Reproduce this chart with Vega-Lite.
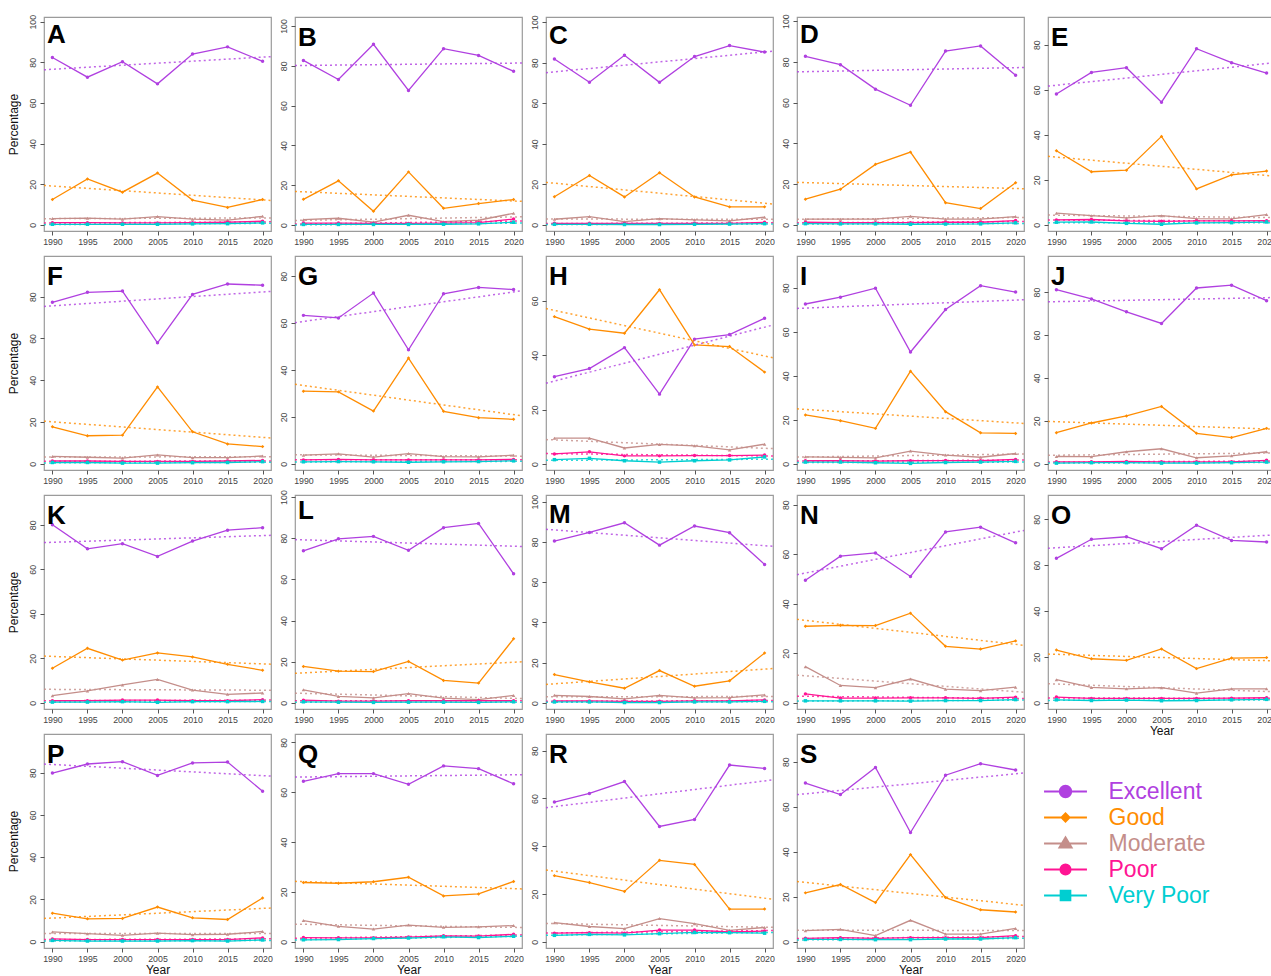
{
"$schema": "https://vega.github.io/schema/vega-lite/v6.json",
"padding": {"left": 6, "top": 13, "right": 0, "bottom": 0},
"bounds": "flush",
"spacing": {"row": 25, "column": 24},
"columns": 5,
"datasets": {"d": [
{"panel":"A","level":"Excellent","year":1990,"pct":82.4},{"panel":"A","level":"Excellent","year":1995,"pct":72.7},{"panel":"A","level":"Excellent","year":2000,"pct":80.3},{"panel":"A","level":"Excellent","year":2005,"pct":69.4},{"panel":"A","level":"Excellent","year":2010,"pct":84.1},{"panel":"A","level":"Excellent","year":2015,"pct":87.6},{"panel":"A","level":"Excellent","year":2020,"pct":80.5},
{"panel":"A","level":"Good","year":1990,"pct":12.5},{"panel":"A","level":"Good","year":1995,"pct":22.6},{"panel":"A","level":"Good","year":2000,"pct":16.1},{"panel":"A","level":"Good","year":2005,"pct":25.5},{"panel":"A","level":"Good","year":2010,"pct":12.2},{"panel":"A","level":"Good","year":2015,"pct":8.6},{"panel":"A","level":"Good","year":2020,"pct":12.5},
{"panel":"A","level":"Moderate","year":1990,"pct":3.1},{"panel":"A","level":"Moderate","year":1995,"pct":3.3},{"panel":"A","level":"Moderate","year":2000,"pct":2.8},{"panel":"A","level":"Moderate","year":2005,"pct":4.1},{"panel":"A","level":"Moderate","year":2010,"pct":2.8},{"panel":"A","level":"Moderate","year":2015,"pct":2.4},{"panel":"A","level":"Moderate","year":2020,"pct":4.2},
{"panel":"A","level":"Poor","year":1990,"pct":1.1},{"panel":"A","level":"Poor","year":1995,"pct":1.1},{"panel":"A","level":"Poor","year":2000,"pct":1.0},{"panel":"A","level":"Poor","year":2005,"pct":1.0},{"panel":"A","level":"Poor","year":2010,"pct":1.1},{"panel":"A","level":"Poor","year":2015,"pct":1.3},{"panel":"A","level":"Poor","year":2020,"pct":1.8},
{"panel":"A","level":"Very Poor","year":1990,"pct":0.3},{"panel":"A","level":"Very Poor","year":1995,"pct":0.3},{"panel":"A","level":"Very Poor","year":2000,"pct":0.3},{"panel":"A","level":"Very Poor","year":2005,"pct":0.3},{"panel":"A","level":"Very Poor","year":2010,"pct":0.5},{"panel":"A","level":"Very Poor","year":2015,"pct":0.6},{"panel":"A","level":"Very Poor","year":2020,"pct":1.0},
{"panel":"B","level":"Excellent","year":1990,"pct":82.7},{"panel":"B","level":"Excellent","year":1995,"pct":73.1},{"panel":"B","level":"Excellent","year":2000,"pct":90.8},{"panel":"B","level":"Excellent","year":2005,"pct":67.6},{"panel":"B","level":"Excellent","year":2010,"pct":88.6},{"panel":"B","level":"Excellent","year":2015,"pct":85.2},{"panel":"B","level":"Excellent","year":2020,"pct":77.2},
{"panel":"B","level":"Good","year":1990,"pct":12.9},{"panel":"B","level":"Good","year":1995,"pct":22.2},{"panel":"B","level":"Good","year":2000,"pct":6.9},{"panel":"B","level":"Good","year":2005,"pct":26.7},{"panel":"B","level":"Good","year":2010,"pct":8.4},{"panel":"B","level":"Good","year":2015,"pct":10.8},{"panel":"B","level":"Good","year":2020,"pct":12.8},
{"panel":"B","level":"Moderate","year":1990,"pct":2.7},{"panel":"B","level":"Moderate","year":1995,"pct":3.4},{"panel":"B","level":"Moderate","year":2000,"pct":1.5},{"panel":"B","level":"Moderate","year":2005,"pct":4.9},{"panel":"B","level":"Moderate","year":2010,"pct":1.7},{"panel":"B","level":"Moderate","year":2015,"pct":2.4},{"panel":"B","level":"Moderate","year":2020,"pct":5.9},
{"panel":"B","level":"Poor","year":1990,"pct":1.0},{"panel":"B","level":"Poor","year":1995,"pct":1.0},{"panel":"B","level":"Poor","year":2000,"pct":0.8},{"panel":"B","level":"Poor","year":2005,"pct":0.8},{"panel":"B","level":"Poor","year":2010,"pct":1.0},{"panel":"B","level":"Poor","year":2015,"pct":1.2},{"panel":"B","level":"Poor","year":2020,"pct":3.0},
{"panel":"B","level":"Very Poor","year":1990,"pct":0.3},{"panel":"B","level":"Very Poor","year":1995,"pct":0.3},{"panel":"B","level":"Very Poor","year":2000,"pct":0.3},{"panel":"B","level":"Very Poor","year":2005,"pct":0.3},{"panel":"B","level":"Very Poor","year":2010,"pct":0.4},{"panel":"B","level":"Very Poor","year":2015,"pct":0.6},{"panel":"B","level":"Very Poor","year":2020,"pct":1.4},
{"panel":"C","level":"Excellent","year":1990,"pct":81.8},{"panel":"C","level":"Excellent","year":1995,"pct":70.3},{"panel":"C","level":"Excellent","year":2000,"pct":83.6},{"panel":"C","level":"Excellent","year":2005,"pct":70.3},{"panel":"C","level":"Excellent","year":2010,"pct":83.0},{"panel":"C","level":"Excellent","year":2015,"pct":88.4},{"panel":"C","level":"Excellent","year":2020,"pct":85.2},
{"panel":"C","level":"Good","year":1990,"pct":13.9},{"panel":"C","level":"Good","year":1995,"pct":24.4},{"panel":"C","level":"Good","year":2000,"pct":13.8},{"panel":"C","level":"Good","year":2005,"pct":25.7},{"panel":"C","level":"Good","year":2010,"pct":13.8},{"panel":"C","level":"Good","year":2015,"pct":8.9},{"panel":"C","level":"Good","year":2020,"pct":8.9},
{"panel":"C","level":"Moderate","year":1990,"pct":2.8},{"panel":"C","level":"Moderate","year":1995,"pct":4.1},{"panel":"C","level":"Moderate","year":2000,"pct":1.6},{"panel":"C","level":"Moderate","year":2005,"pct":3.1},{"panel":"C","level":"Moderate","year":2010,"pct":2.5},{"panel":"C","level":"Moderate","year":2015,"pct":2.0},{"panel":"C","level":"Moderate","year":2020,"pct":3.8},
{"panel":"C","level":"Poor","year":1990,"pct":0.8},{"panel":"C","level":"Poor","year":1995,"pct":0.8},{"panel":"C","level":"Poor","year":2000,"pct":0.7},{"panel":"C","level":"Poor","year":2005,"pct":0.7},{"panel":"C","level":"Poor","year":2010,"pct":0.8},{"panel":"C","level":"Poor","year":2015,"pct":0.8},{"panel":"C","level":"Poor","year":2020,"pct":1.3},
{"panel":"C","level":"Very Poor","year":1990,"pct":0.3},{"panel":"C","level":"Very Poor","year":1995,"pct":0.3},{"panel":"C","level":"Very Poor","year":2000,"pct":0.2},{"panel":"C","level":"Very Poor","year":2005,"pct":0.2},{"panel":"C","level":"Very Poor","year":2010,"pct":0.3},{"panel":"C","level":"Very Poor","year":2015,"pct":0.4},{"panel":"C","level":"Very Poor","year":2020,"pct":0.6},
{"panel":"D","level":"Excellent","year":1990,"pct":82.7},{"panel":"D","level":"Excellent","year":1995,"pct":78.6},{"panel":"D","level":"Excellent","year":2000,"pct":66.6},{"panel":"D","level":"Excellent","year":2005,"pct":58.7},{"panel":"D","level":"Excellent","year":2010,"pct":85.3},{"panel":"D","level":"Excellent","year":2015,"pct":87.8},{"panel":"D","level":"Excellent","year":2020,"pct":73.4},
{"panel":"D","level":"Good","year":1990,"pct":12.6},{"panel":"D","level":"Good","year":1995,"pct":17.5},{"panel":"D","level":"Good","year":2000,"pct":29.7},{"panel":"D","level":"Good","year":2005,"pct":35.7},{"panel":"D","level":"Good","year":2010,"pct":10.9},{"panel":"D","level":"Good","year":2015,"pct":8.0},{"panel":"D","level":"Good","year":2020,"pct":20.7},
{"panel":"D","level":"Moderate","year":1990,"pct":2.8},{"panel":"D","level":"Moderate","year":1995,"pct":2.8},{"panel":"D","level":"Moderate","year":2000,"pct":2.8},{"panel":"D","level":"Moderate","year":2005,"pct":4.2},{"panel":"D","level":"Moderate","year":2010,"pct":2.8},{"panel":"D","level":"Moderate","year":2015,"pct":2.8},{"panel":"D","level":"Moderate","year":2020,"pct":4.1},
{"panel":"D","level":"Poor","year":1990,"pct":1.3},{"panel":"D","level":"Poor","year":1995,"pct":1.1},{"panel":"D","level":"Poor","year":2000,"pct":1.1},{"panel":"D","level":"Poor","year":2005,"pct":1.1},{"panel":"D","level":"Poor","year":2010,"pct":1.3},{"panel":"D","level":"Poor","year":2015,"pct":1.3},{"panel":"D","level":"Poor","year":2020,"pct":2.1},
{"panel":"D","level":"Very Poor","year":1990,"pct":0.6},{"panel":"D","level":"Very Poor","year":1995,"pct":0.5},{"panel":"D","level":"Very Poor","year":2000,"pct":0.5},{"panel":"D","level":"Very Poor","year":2005,"pct":0.3},{"panel":"D","level":"Very Poor","year":2010,"pct":0.4},{"panel":"D","level":"Very Poor","year":2015,"pct":0.5},{"panel":"D","level":"Very Poor","year":2020,"pct":1.0},
{"panel":"E","level":"Excellent","year":1990,"pct":58.1},{"panel":"E","level":"Excellent","year":1995,"pct":67.7},{"panel":"E","level":"Excellent","year":2000,"pct":69.8},{"panel":"E","level":"Excellent","year":2005,"pct":54.5},{"panel":"E","level":"Excellent","year":2010,"pct":78.2},{"panel":"E","level":"Excellent","year":2015,"pct":72.0},{"panel":"E","level":"Excellent","year":2020,"pct":67.4},
{"panel":"E","level":"Good","year":1990,"pct":32.9},{"panel":"E","level":"Good","year":1995,"pct":23.6},{"panel":"E","level":"Good","year":2000,"pct":24.3},{"panel":"E","level":"Good","year":2005,"pct":39.3},{"panel":"E","level":"Good","year":2010,"pct":16.0},{"panel":"E","level":"Good","year":2015,"pct":22.2},{"panel":"E","level":"Good","year":2020,"pct":23.9},
{"panel":"E","level":"Moderate","year":1990,"pct":5.2},{"panel":"E","level":"Moderate","year":1995,"pct":4.1},{"panel":"E","level":"Moderate","year":2000,"pct":3.1},{"panel":"E","level":"Moderate","year":2005,"pct":4.1},{"panel":"E","level":"Moderate","year":2010,"pct":2.8},{"panel":"E","level":"Moderate","year":2015,"pct":2.7},{"panel":"E","level":"Moderate","year":2020,"pct":4.6},
{"panel":"E","level":"Poor","year":1990,"pct":2.2},{"panel":"E","level":"Poor","year":1995,"pct":2.4},{"panel":"E","level":"Poor","year":2000,"pct":1.8},{"panel":"E","level":"Poor","year":2005,"pct":1.6},{"panel":"E","level":"Poor","year":2010,"pct":1.8},{"panel":"E","level":"Poor","year":2015,"pct":1.8},{"panel":"E","level":"Poor","year":2020,"pct":1.9},
{"panel":"E","level":"Very Poor","year":1990,"pct":1.2},{"panel":"E","level":"Very Poor","year":1995,"pct":1.3},{"panel":"E","level":"Very Poor","year":2000,"pct":0.7},{"panel":"E","level":"Very Poor","year":2005,"pct":0.3},{"panel":"E","level":"Very Poor","year":2010,"pct":0.9},{"panel":"E","level":"Very Poor","year":2015,"pct":1.0},{"panel":"E","level":"Very Poor","year":2020,"pct":1.3},
{"panel":"F","level":"Excellent","year":1990,"pct":77.3},{"panel":"F","level":"Excellent","year":1995,"pct":82.1},{"panel":"F","level":"Excellent","year":2000,"pct":82.7},{"panel":"F","level":"Excellent","year":2005,"pct":57.9},{"panel":"F","level":"Excellent","year":2010,"pct":81.1},{"panel":"F","level":"Excellent","year":2015,"pct":86.1},{"panel":"F","level":"Excellent","year":2020,"pct":85.5},
{"panel":"F","level":"Good","year":1990,"pct":17.7},{"panel":"F","level":"Good","year":1995,"pct":13.4},{"panel":"F","level":"Good","year":2000,"pct":13.7},{"panel":"F","level":"Good","year":2005,"pct":36.8},{"panel":"F","level":"Good","year":2010,"pct":15.3},{"panel":"F","level":"Good","year":2015,"pct":9.5},{"panel":"F","level":"Good","year":2020,"pct":8.2},
{"panel":"F","level":"Moderate","year":1990,"pct":3.5},{"panel":"F","level":"Moderate","year":1995,"pct":3.1},{"panel":"F","level":"Moderate","year":2000,"pct":2.7},{"panel":"F","level":"Moderate","year":2005,"pct":4.2},{"panel":"F","level":"Moderate","year":2010,"pct":2.9},{"panel":"F","level":"Moderate","year":2015,"pct":2.9},{"panel":"F","level":"Moderate","year":2020,"pct":3.7},
{"panel":"F","level":"Poor","year":1990,"pct":1.3},{"panel":"F","level":"Poor","year":1995,"pct":1.3},{"panel":"F","level":"Poor","year":2000,"pct":1.1},{"panel":"F","level":"Poor","year":2005,"pct":1.1},{"panel":"F","level":"Poor","year":2010,"pct":1.1},{"panel":"F","level":"Poor","year":2015,"pct":1.3},{"panel":"F","level":"Poor","year":2020,"pct":1.6},
{"panel":"F","level":"Very Poor","year":1990,"pct":0.6},{"panel":"F","level":"Very Poor","year":1995,"pct":0.6},{"panel":"F","level":"Very Poor","year":2000,"pct":0.3},{"panel":"F","level":"Very Poor","year":2005,"pct":0.3},{"panel":"F","level":"Very Poor","year":2010,"pct":0.5},{"panel":"F","level":"Very Poor","year":2015,"pct":0.6},{"panel":"F","level":"Very Poor","year":2020,"pct":1.0},
{"panel":"G","level":"Excellent","year":1990,"pct":63.3},{"panel":"G","level":"Excellent","year":1995,"pct":62.2},{"panel":"G","level":"Excellent","year":2000,"pct":72.8},{"panel":"G","level":"Excellent","year":2005,"pct":48.6},{"panel":"G","level":"Excellent","year":2010,"pct":72.5},{"panel":"G","level":"Excellent","year":2015,"pct":75.2},{"panel":"G","level":"Excellent","year":2020,"pct":74.3},
{"panel":"G","level":"Good","year":1990,"pct":31.0},{"panel":"G","level":"Good","year":1995,"pct":30.7},{"panel":"G","level":"Good","year":2000,"pct":22.5},{"panel":"G","level":"Good","year":2005,"pct":45.1},{"panel":"G","level":"Good","year":2010,"pct":22.4},{"panel":"G","level":"Good","year":2015,"pct":19.7},{"panel":"G","level":"Good","year":2020,"pct":19.0},
{"panel":"G","level":"Moderate","year":1990,"pct":3.7},{"panel":"G","level":"Moderate","year":1995,"pct":4.3},{"panel":"G","level":"Moderate","year":2000,"pct":2.9},{"panel":"G","level":"Moderate","year":2005,"pct":4.4},{"panel":"G","level":"Moderate","year":2010,"pct":3.1},{"panel":"G","level":"Moderate","year":2015,"pct":3.0},{"panel":"G","level":"Moderate","year":2020,"pct":3.7},
{"panel":"G","level":"Poor","year":1990,"pct":1.7},{"panel":"G","level":"Poor","year":1995,"pct":1.9},{"panel":"G","level":"Poor","year":2000,"pct":1.7},{"panel":"G","level":"Poor","year":2005,"pct":1.7},{"panel":"G","level":"Poor","year":2010,"pct":1.7},{"panel":"G","level":"Poor","year":2015,"pct":1.7},{"panel":"G","level":"Poor","year":2020,"pct":1.9},
{"panel":"G","level":"Very Poor","year":1990,"pct":0.9},{"panel":"G","level":"Very Poor","year":1995,"pct":1.0},{"panel":"G","level":"Very Poor","year":2000,"pct":0.9},{"panel":"G","level":"Very Poor","year":2005,"pct":0.7},{"panel":"G","level":"Very Poor","year":2010,"pct":0.9},{"panel":"G","level":"Very Poor","year":2015,"pct":1.0},{"panel":"G","level":"Very Poor","year":2020,"pct":1.3},
{"panel":"H","level":"Excellent","year":1990,"pct":32.1},{"panel":"H","level":"Excellent","year":1995,"pct":35.1},{"panel":"H","level":"Excellent","year":2000,"pct":42.8},{"panel":"H","level":"Excellent","year":2005,"pct":25.7},{"panel":"H","level":"Excellent","year":2010,"pct":45.9},{"panel":"H","level":"Excellent","year":2015,"pct":47.6},{"panel":"H","level":"Excellent","year":2020,"pct":53.6},
{"panel":"H","level":"Good","year":1990,"pct":54.2},{"panel":"H","level":"Good","year":1995,"pct":49.6},{"panel":"H","level":"Good","year":2000,"pct":48.1},{"panel":"H","level":"Good","year":2005,"pct":64.1},{"panel":"H","level":"Good","year":2010,"pct":43.8},{"panel":"H","level":"Good","year":2015,"pct":43.2},{"panel":"H","level":"Good","year":2020,"pct":33.8},
{"panel":"H","level":"Moderate","year":1990,"pct":9.5},{"panel":"H","level":"Moderate","year":1995,"pct":9.5},{"panel":"H","level":"Moderate","year":2000,"pct":5.9},{"panel":"H","level":"Moderate","year":2005,"pct":7.2},{"panel":"H","level":"Moderate","year":2010,"pct":6.7},{"panel":"H","level":"Moderate","year":2015,"pct":5.2},{"panel":"H","level":"Moderate","year":2020,"pct":7.3},
{"panel":"H","level":"Poor","year":1990,"pct":3.7},{"panel":"H","level":"Poor","year":1995,"pct":4.5},{"panel":"H","level":"Poor","year":2000,"pct":3.0},{"panel":"H","level":"Poor","year":2005,"pct":3.0},{"panel":"H","level":"Poor","year":2010,"pct":3.1},{"panel":"H","level":"Poor","year":2015,"pct":3.1},{"panel":"H","level":"Poor","year":2020,"pct":3.3},
{"panel":"H","level":"Very Poor","year":1990,"pct":1.6},{"panel":"H","level":"Very Poor","year":1995,"pct":2.1},{"panel":"H","level":"Very Poor","year":2000,"pct":1.2},{"panel":"H","level":"Very Poor","year":2005,"pct":0.7},{"panel":"H","level":"Very Poor","year":2010,"pct":1.2},{"panel":"H","level":"Very Poor","year":2015,"pct":1.5},{"panel":"H","level":"Very Poor","year":2020,"pct":2.6},
{"panel":"I","level":"Excellent","year":1990,"pct":72.6},{"panel":"I","level":"Excellent","year":1995,"pct":75.7},{"panel":"I","level":"Excellent","year":2000,"pct":79.8},{"panel":"I","level":"Excellent","year":2005,"pct":50.8},{"panel":"I","level":"Excellent","year":2010,"pct":70.1},{"panel":"I","level":"Excellent","year":2015,"pct":80.9},{"panel":"I","level":"Excellent","year":2020,"pct":78.0},
{"panel":"I","level":"Good","year":1990,"pct":22.2},{"panel":"I","level":"Good","year":1995,"pct":19.6},{"panel":"I","level":"Good","year":2000,"pct":16.1},{"panel":"I","level":"Good","year":2005,"pct":42.1},{"panel":"I","level":"Good","year":2010,"pct":23.7},{"panel":"I","level":"Good","year":2015,"pct":14.1},{"panel":"I","level":"Good","year":2020,"pct":13.8},
{"panel":"I","level":"Moderate","year":1990,"pct":3.2},{"panel":"I","level":"Moderate","year":1995,"pct":2.9},{"panel":"I","level":"Moderate","year":2000,"pct":2.7},{"panel":"I","level":"Moderate","year":2005,"pct":5.8},{"panel":"I","level":"Moderate","year":2010,"pct":4.0},{"panel":"I","level":"Moderate","year":2015,"pct":3.0},{"panel":"I","level":"Moderate","year":2020,"pct":4.7},
{"panel":"I","level":"Poor","year":1990,"pct":1.4},{"panel":"I","level":"Poor","year":1995,"pct":1.4},{"panel":"I","level":"Poor","year":2000,"pct":1.2},{"panel":"I","level":"Poor","year":2005,"pct":1.4},{"panel":"I","level":"Poor","year":2010,"pct":1.5},{"panel":"I","level":"Poor","year":2015,"pct":1.4},{"panel":"I","level":"Poor","year":2020,"pct":2.0},
{"panel":"I","level":"Very Poor","year":1990,"pct":0.8},{"panel":"I","level":"Very Poor","year":1995,"pct":0.8},{"panel":"I","level":"Very Poor","year":2000,"pct":0.5},{"panel":"I","level":"Very Poor","year":2005,"pct":0.2},{"panel":"I","level":"Very Poor","year":2010,"pct":0.6},{"panel":"I","level":"Very Poor","year":2015,"pct":0.8},{"panel":"I","level":"Very Poor","year":2020,"pct":1.1},
{"panel":"J","level":"Excellent","year":1990,"pct":81.1},{"panel":"J","level":"Excellent","year":1995,"pct":76.8},{"panel":"J","level":"Excellent","year":2000,"pct":70.8},{"panel":"J","level":"Excellent","year":2005,"pct":65.4},{"panel":"J","level":"Excellent","year":2010,"pct":81.9},{"panel":"J","level":"Excellent","year":2015,"pct":83.2},{"panel":"J","level":"Excellent","year":2020,"pct":76.0},
{"panel":"J","level":"Good","year":1990,"pct":14.5},{"panel":"J","level":"Good","year":1995,"pct":19.0},{"panel":"J","level":"Good","year":2000,"pct":22.3},{"panel":"J","level":"Good","year":2005,"pct":26.7},{"panel":"J","level":"Good","year":2010,"pct":14.2},{"panel":"J","level":"Good","year":2015,"pct":12.2},{"panel":"J","level":"Good","year":2020,"pct":16.5},
{"panel":"J","level":"Moderate","year":1990,"pct":3.4},{"panel":"J","level":"Moderate","year":1995,"pct":3.3},{"panel":"J","level":"Moderate","year":2000,"pct":5.6},{"panel":"J","level":"Moderate","year":2005,"pct":7.0},{"panel":"J","level":"Moderate","year":2010,"pct":2.8},{"panel":"J","level":"Moderate","year":2015,"pct":3.7},{"panel":"J","level":"Moderate","year":2020,"pct":5.6},
{"panel":"J","level":"Poor","year":1990,"pct":0.9},{"panel":"J","level":"Poor","year":1995,"pct":0.9},{"panel":"J","level":"Poor","year":2000,"pct":1.1},{"panel":"J","level":"Poor","year":2005,"pct":0.9},{"panel":"J","level":"Poor","year":2010,"pct":0.9},{"panel":"J","level":"Poor","year":2015,"pct":0.9},{"panel":"J","level":"Poor","year":2020,"pct":1.6},
{"panel":"J","level":"Very Poor","year":1990,"pct":0.3},{"panel":"J","level":"Very Poor","year":1995,"pct":0.5},{"panel":"J","level":"Very Poor","year":2000,"pct":0.5},{"panel":"J","level":"Very Poor","year":2005,"pct":0.3},{"panel":"J","level":"Very Poor","year":2010,"pct":0.3},{"panel":"J","level":"Very Poor","year":2015,"pct":0.5},{"panel":"J","level":"Very Poor","year":2020,"pct":0.8},
{"panel":"K","level":"Excellent","year":1990,"pct":80.0},{"panel":"K","level":"Excellent","year":1995,"pct":69.2},{"panel":"K","level":"Excellent","year":2000,"pct":71.5},{"panel":"K","level":"Excellent","year":2005,"pct":65.8},{"panel":"K","level":"Excellent","year":2010,"pct":72.7},{"panel":"K","level":"Excellent","year":2015,"pct":77.6},{"panel":"K","level":"Excellent","year":2020,"pct":78.7},
{"panel":"K","level":"Good","year":1990,"pct":15.5},{"panel":"K","level":"Good","year":1995,"pct":24.5},{"panel":"K","level":"Good","year":2000,"pct":19.2},{"panel":"K","level":"Good","year":2005,"pct":22.4},{"panel":"K","level":"Good","year":2010,"pct":20.6},{"panel":"K","level":"Good","year":2015,"pct":17.3},{"panel":"K","level":"Good","year":2020,"pct":14.6},
{"panel":"K","level":"Moderate","year":1990,"pct":3.2},{"panel":"K","level":"Moderate","year":1995,"pct":5.3},{"panel":"K","level":"Moderate","year":2000,"pct":8.0},{"panel":"K","level":"Moderate","year":2005,"pct":10.5},{"panel":"K","level":"Moderate","year":2010,"pct":5.7},{"panel":"K","level":"Moderate","year":2015,"pct":3.8},{"panel":"K","level":"Moderate","year":2020,"pct":4.4},
{"panel":"K","level":"Poor","year":1990,"pct":0.9},{"panel":"K","level":"Poor","year":1995,"pct":0.9},{"panel":"K","level":"Poor","year":2000,"pct":1.2},{"panel":"K","level":"Poor","year":2005,"pct":1.2},{"panel":"K","level":"Poor","year":2010,"pct":0.9},{"panel":"K","level":"Poor","year":2015,"pct":0.9},{"panel":"K","level":"Poor","year":2020,"pct":1.4},
{"panel":"K","level":"Very Poor","year":1990,"pct":0.3},{"panel":"K","level":"Very Poor","year":1995,"pct":0.3},{"panel":"K","level":"Very Poor","year":2000,"pct":0.5},{"panel":"K","level":"Very Poor","year":2005,"pct":0.2},{"panel":"K","level":"Very Poor","year":2010,"pct":0.5},{"panel":"K","level":"Very Poor","year":2015,"pct":0.5},{"panel":"K","level":"Very Poor","year":2020,"pct":0.6},
{"panel":"L","level":"Excellent","year":1990,"pct":73.9},{"panel":"L","level":"Excellent","year":1995,"pct":79.7},{"panel":"L","level":"Excellent","year":2000,"pct":80.9},{"panel":"L","level":"Excellent","year":2005,"pct":74.1},{"panel":"L","level":"Excellent","year":2010,"pct":85.1},{"panel":"L","level":"Excellent","year":2015,"pct":87.2},{"panel":"L","level":"Excellent","year":2020,"pct":62.7},
{"panel":"L","level":"Good","year":1990,"pct":17.7},{"panel":"L","level":"Good","year":1995,"pct":15.4},{"panel":"L","level":"Good","year":2000,"pct":15.2},{"panel":"L","level":"Good","year":2005,"pct":20.1},{"panel":"L","level":"Good","year":2010,"pct":10.9},{"panel":"L","level":"Good","year":2015,"pct":9.6},{"panel":"L","level":"Good","year":2020,"pct":31.1},
{"panel":"L","level":"Moderate","year":1990,"pct":6.3},{"panel":"L","level":"Moderate","year":1995,"pct":3.1},{"panel":"L","level":"Moderate","year":2000,"pct":2.4},{"panel":"L","level":"Moderate","year":2005,"pct":4.5},{"panel":"L","level":"Moderate","year":2010,"pct":2.3},{"panel":"L","level":"Moderate","year":2015,"pct":1.6},{"panel":"L","level":"Moderate","year":2020,"pct":3.6},
{"panel":"L","level":"Poor","year":1990,"pct":1.3},{"panel":"L","level":"Poor","year":1995,"pct":0.8},{"panel":"L","level":"Poor","year":2000,"pct":0.8},{"panel":"L","level":"Poor","year":2005,"pct":1.0},{"panel":"L","level":"Poor","year":2010,"pct":1.0},{"panel":"L","level":"Poor","year":2015,"pct":1.0},{"panel":"L","level":"Poor","year":2020,"pct":1.0},
{"panel":"L","level":"Very Poor","year":1990,"pct":0.5},{"panel":"L","level":"Very Poor","year":1995,"pct":0.3},{"panel":"L","level":"Very Poor","year":2000,"pct":0.2},{"panel":"L","level":"Very Poor","year":2005,"pct":0.3},{"panel":"L","level":"Very Poor","year":2010,"pct":0.3},{"panel":"L","level":"Very Poor","year":2015,"pct":0.2},{"panel":"L","level":"Very Poor","year":2020,"pct":0.5},
{"panel":"M","level":"Excellent","year":1990,"pct":80.4},{"panel":"M","level":"Excellent","year":1995,"pct":84.7},{"panel":"M","level":"Excellent","year":2000,"pct":89.5},{"panel":"M","level":"Excellent","year":2005,"pct":78.4},{"panel":"M","level":"Excellent","year":2010,"pct":87.9},{"panel":"M","level":"Excellent","year":2015,"pct":84.6},{"panel":"M","level":"Excellent","year":2020,"pct":68.8},
{"panel":"M","level":"Good","year":1990,"pct":14.1},{"panel":"M","level":"Good","year":1995,"pct":10.5},{"panel":"M","level":"Good","year":2000,"pct":7.3},{"panel":"M","level":"Good","year":2005,"pct":16.1},{"panel":"M","level":"Good","year":2010,"pct":8.3},{"panel":"M","level":"Good","year":2015,"pct":11.0},{"panel":"M","level":"Good","year":2020,"pct":24.8},
{"panel":"M","level":"Moderate","year":1990,"pct":3.8},{"panel":"M","level":"Moderate","year":1995,"pct":3.2},{"panel":"M","level":"Moderate","year":2000,"pct":2.0},{"panel":"M","level":"Moderate","year":2005,"pct":3.8},{"panel":"M","level":"Moderate","year":2010,"pct":2.5},{"panel":"M","level":"Moderate","year":2015,"pct":2.7},{"panel":"M","level":"Moderate","year":2020,"pct":4.0},
{"panel":"M","level":"Poor","year":1990,"pct":1.0},{"panel":"M","level":"Poor","year":1995,"pct":1.0},{"panel":"M","level":"Poor","year":2000,"pct":0.8},{"panel":"M","level":"Poor","year":2005,"pct":0.8},{"panel":"M","level":"Poor","year":2010,"pct":1.0},{"panel":"M","level":"Poor","year":2015,"pct":1.0},{"panel":"M","level":"Poor","year":2020,"pct":1.5},
{"panel":"M","level":"Very Poor","year":1990,"pct":0.5},{"panel":"M","level":"Very Poor","year":1995,"pct":0.5},{"panel":"M","level":"Very Poor","year":2000,"pct":0.2},{"panel":"M","level":"Very Poor","year":2005,"pct":0.2},{"panel":"M","level":"Very Poor","year":2010,"pct":0.5},{"panel":"M","level":"Very Poor","year":2015,"pct":0.5},{"panel":"M","level":"Very Poor","year":2020,"pct":0.8},
{"panel":"N","level":"Excellent","year":1990,"pct":49.5},{"panel":"N","level":"Excellent","year":1995,"pct":59.2},{"panel":"N","level":"Excellent","year":2000,"pct":60.5},{"panel":"N","level":"Excellent","year":2005,"pct":51.0},{"panel":"N","level":"Excellent","year":2010,"pct":69.0},{"panel":"N","level":"Excellent","year":2015,"pct":70.9},{"panel":"N","level":"Excellent","year":2020,"pct":64.6},
{"panel":"N","level":"Good","year":1990,"pct":30.9},{"panel":"N","level":"Good","year":1995,"pct":31.3},{"panel":"N","level":"Good","year":2000,"pct":31.2},{"panel":"N","level":"Good","year":2005,"pct":36.2},{"panel":"N","level":"Good","year":2010,"pct":22.8},{"panel":"N","level":"Good","year":2015,"pct":21.7},{"panel":"N","level":"Good","year":2020,"pct":25.0},
{"panel":"N","level":"Moderate","year":1990,"pct":14.6},{"panel":"N","level":"Moderate","year":1995,"pct":7.0},{"panel":"N","level":"Moderate","year":2000,"pct":6.1},{"panel":"N","level":"Moderate","year":2005,"pct":9.6},{"panel":"N","level":"Moderate","year":2010,"pct":5.5},{"panel":"N","level":"Moderate","year":2015,"pct":4.9},{"panel":"N","level":"Moderate","year":2020,"pct":6.3},
{"panel":"N","level":"Poor","year":1990,"pct":3.6},{"panel":"N","level":"Poor","year":1995,"pct":1.9},{"panel":"N","level":"Poor","year":2000,"pct":1.9},{"panel":"N","level":"Poor","year":2005,"pct":2.0},{"panel":"N","level":"Poor","year":2010,"pct":2.0},{"panel":"N","level":"Poor","year":2015,"pct":1.8},{"panel":"N","level":"Poor","year":2020,"pct":2.3},
{"panel":"N","level":"Very Poor","year":1990,"pct":0.8},{"panel":"N","level":"Very Poor","year":1995,"pct":0.8},{"panel":"N","level":"Very Poor","year":2000,"pct":0.8},{"panel":"N","level":"Very Poor","year":2005,"pct":0.7},{"panel":"N","level":"Very Poor","year":2010,"pct":0.9},{"panel":"N","level":"Very Poor","year":2015,"pct":0.9},{"panel":"N","level":"Very Poor","year":2020,"pct":1.3},
{"panel":"O","level":"Excellent","year":1990,"pct":63.0},{"panel":"O","level":"Excellent","year":1995,"pct":71.3},{"panel":"O","level":"Excellent","year":2000,"pct":72.4},{"panel":"O","level":"Excellent","year":2005,"pct":67.2},{"panel":"O","level":"Excellent","year":2010,"pct":77.4},{"panel":"O","level":"Excellent","year":2015,"pct":70.8},{"panel":"O","level":"Excellent","year":2020,"pct":70.1},
{"panel":"O","level":"Good","year":1990,"pct":23.0},{"panel":"O","level":"Good","year":1995,"pct":19.2},{"panel":"O","level":"Good","year":2000,"pct":18.5},{"panel":"O","level":"Good","year":2005,"pct":23.5},{"panel":"O","level":"Good","year":2010,"pct":14.9},{"panel":"O","level":"Good","year":2015,"pct":19.5},{"panel":"O","level":"Good","year":2020,"pct":19.7},
{"panel":"O","level":"Moderate","year":1990,"pct":10.1},{"panel":"O","level":"Moderate","year":1995,"pct":6.7},{"panel":"O","level":"Moderate","year":2000,"pct":6.1},{"panel":"O","level":"Moderate","year":2005,"pct":6.6},{"panel":"O","level":"Moderate","year":2010,"pct":4.2},{"panel":"O","level":"Moderate","year":2015,"pct":6.1},{"panel":"O","level":"Moderate","year":2020,"pct":6.1},
{"panel":"O","level":"Poor","year":1990,"pct":2.5},{"panel":"O","level":"Poor","year":1995,"pct":1.9},{"panel":"O","level":"Poor","year":2000,"pct":1.9},{"panel":"O","level":"Poor","year":2005,"pct":1.9},{"panel":"O","level":"Poor","year":2010,"pct":1.9},{"panel":"O","level":"Poor","year":2015,"pct":2.0},{"panel":"O","level":"Poor","year":2020,"pct":2.2},
{"panel":"O","level":"Very Poor","year":1990,"pct":1.3},{"panel":"O","level":"Very Poor","year":1995,"pct":1.0},{"panel":"O","level":"Very Poor","year":2000,"pct":1.2},{"panel":"O","level":"Very Poor","year":2005,"pct":0.9},{"panel":"O","level":"Very Poor","year":2010,"pct":1.0},{"panel":"O","level":"Very Poor","year":2015,"pct":1.3},{"panel":"O","level":"Very Poor","year":2020,"pct":1.5},
{"panel":"P","level":"Excellent","year":1990,"pct":79.8},{"panel":"P","level":"Excellent","year":1995,"pct":84.1},{"panel":"P","level":"Excellent","year":2000,"pct":85.2},{"panel":"P","level":"Excellent","year":2005,"pct":78.7},{"panel":"P","level":"Excellent","year":2010,"pct":84.6},{"panel":"P","level":"Excellent","year":2015,"pct":85.0},{"panel":"P","level":"Excellent","year":2020,"pct":71.2},
{"panel":"P","level":"Good","year":1990,"pct":13.5},{"panel":"P","level":"Good","year":1995,"pct":10.8},{"panel":"P","level":"Good","year":2000,"pct":11.0},{"panel":"P","level":"Good","year":2005,"pct":16.4},{"panel":"P","level":"Good","year":2010,"pct":11.3},{"panel":"P","level":"Good","year":2015,"pct":10.5},{"panel":"P","level":"Good","year":2020,"pct":20.7},
{"panel":"P","level":"Moderate","year":1990,"pct":4.6},{"panel":"P","level":"Moderate","year":1995,"pct":3.8},{"panel":"P","level":"Moderate","year":2000,"pct":3.0},{"panel":"P","level":"Moderate","year":2005,"pct":4.0},{"panel":"P","level":"Moderate","year":2010,"pct":3.3},{"panel":"P","level":"Moderate","year":2015,"pct":3.5},{"panel":"P","level":"Moderate","year":2020,"pct":4.8},
{"panel":"P","level":"Poor","year":1990,"pct":1.3},{"panel":"P","level":"Poor","year":1995,"pct":1.0},{"panel":"P","level":"Poor","year":2000,"pct":1.0},{"panel":"P","level":"Poor","year":2005,"pct":1.0},{"panel":"P","level":"Poor","year":2010,"pct":1.0},{"panel":"P","level":"Poor","year":2015,"pct":1.0},{"panel":"P","level":"Poor","year":2020,"pct":1.8},
{"panel":"P","level":"Very Poor","year":1990,"pct":0.6},{"panel":"P","level":"Very Poor","year":1995,"pct":0.3},{"panel":"P","level":"Very Poor","year":2000,"pct":0.3},{"panel":"P","level":"Very Poor","year":2005,"pct":0.3},{"panel":"P","level":"Very Poor","year":2010,"pct":0.5},{"panel":"P","level":"Very Poor","year":2015,"pct":0.3},{"panel":"P","level":"Very Poor","year":2020,"pct":0.8},
{"panel":"Q","level":"Excellent","year":1990,"pct":64.4},{"panel":"Q","level":"Excellent","year":1995,"pct":67.5},{"panel":"Q","level":"Excellent","year":2000,"pct":67.5},{"panel":"Q","level":"Excellent","year":2005,"pct":63.2},{"panel":"Q","level":"Excellent","year":2010,"pct":70.6},{"panel":"Q","level":"Excellent","year":2015,"pct":69.5},{"panel":"Q","level":"Excellent","year":2020,"pct":63.4},
{"panel":"Q","level":"Good","year":1990,"pct":23.8},{"panel":"Q","level":"Good","year":1995,"pct":23.5},{"panel":"Q","level":"Good","year":2000,"pct":24.1},{"panel":"Q","level":"Good","year":2005,"pct":25.9},{"panel":"Q","level":"Good","year":2010,"pct":18.4},{"panel":"Q","level":"Good","year":2015,"pct":19.2},{"panel":"Q","level":"Good","year":2020,"pct":24.2},
{"panel":"Q","level":"Moderate","year":1990,"pct":8.5},{"panel":"Q","level":"Moderate","year":1995,"pct":6.2},{"panel":"Q","level":"Moderate","year":2000,"pct":5.1},{"panel":"Q","level":"Moderate","year":2005,"pct":6.7},{"panel":"Q","level":"Moderate","year":2010,"pct":5.8},{"panel":"Q","level":"Moderate","year":2015,"pct":6.0},{"panel":"Q","level":"Moderate","year":2020,"pct":6.5},
{"panel":"Q","level":"Poor","year":1990,"pct":1.7},{"panel":"Q","level":"Poor","year":1995,"pct":1.6},{"panel":"Q","level":"Poor","year":2000,"pct":1.6},{"panel":"Q","level":"Poor","year":2005,"pct":1.9},{"panel":"Q","level":"Poor","year":2010,"pct":2.4},{"panel":"Q","level":"Poor","year":2015,"pct":2.3},{"panel":"Q","level":"Poor","year":2020,"pct":3.0},
{"panel":"Q","level":"Very Poor","year":1990,"pct":0.8},{"panel":"Q","level":"Very Poor","year":1995,"pct":0.9},{"panel":"Q","level":"Very Poor","year":2000,"pct":1.3},{"panel":"Q","level":"Very Poor","year":2005,"pct":1.5},{"panel":"Q","level":"Very Poor","year":2010,"pct":2.0},{"panel":"Q","level":"Very Poor","year":2015,"pct":1.7},{"panel":"Q","level":"Very Poor","year":2020,"pct":2.2},
{"panel":"R","level":"Excellent","year":1990,"pct":58.5},{"panel":"R","level":"Excellent","year":1995,"pct":62.1},{"panel":"R","level":"Excellent","year":2000,"pct":67.1},{"panel":"R","level":"Excellent","year":2005,"pct":48.3},{"panel":"R","level":"Excellent","year":2010,"pct":51.2},{"panel":"R","level":"Excellent","year":2015,"pct":74.0},{"panel":"R","level":"Excellent","year":2020,"pct":72.6},
{"panel":"R","level":"Good","year":1990,"pct":27.7},{"panel":"R","level":"Good","year":1995,"pct":24.8},{"panel":"R","level":"Good","year":2000,"pct":21.1},{"panel":"R","level":"Good","year":2005,"pct":34.1},{"panel":"R","level":"Good","year":2010,"pct":32.4},{"panel":"R","level":"Good","year":2015,"pct":13.7},{"panel":"R","level":"Good","year":2020,"pct":13.7},
{"panel":"R","level":"Moderate","year":1990,"pct":8.0},{"panel":"R","level":"Moderate","year":1995,"pct":6.4},{"panel":"R","level":"Moderate","year":2000,"pct":5.5},{"panel":"R","level":"Moderate","year":2005,"pct":9.7},{"panel":"R","level":"Moderate","year":2010,"pct":7.6},{"panel":"R","level":"Moderate","year":2015,"pct":4.8},{"panel":"R","level":"Moderate","year":2020,"pct":6.0},
{"panel":"R","level":"Poor","year":1990,"pct":3.6},{"panel":"R","level":"Poor","year":1995,"pct":3.8},{"panel":"R","level":"Poor","year":2000,"pct":3.6},{"panel":"R","level":"Poor","year":2005,"pct":4.9},{"panel":"R","level":"Poor","year":2010,"pct":4.9},{"panel":"R","level":"Poor","year":2015,"pct":4.1},{"panel":"R","level":"Poor","year":2020,"pct":4.5},
{"panel":"R","level":"Very Poor","year":1990,"pct":2.7},{"panel":"R","level":"Very Poor","year":1995,"pct":3.1},{"panel":"R","level":"Very Poor","year":2000,"pct":2.9},{"panel":"R","level":"Very Poor","year":2005,"pct":3.4},{"panel":"R","level":"Very Poor","year":2010,"pct":3.9},{"panel":"R","level":"Very Poor","year":2015,"pct":3.8},{"panel":"R","level":"Very Poor","year":2020,"pct":3.6},
{"panel":"S","level":"Excellent","year":1990,"pct":70.5},{"panel":"S","level":"Excellent","year":1995,"pct":65.4},{"panel":"S","level":"Excellent","year":2000,"pct":77.4},{"panel":"S","level":"Excellent","year":2005,"pct":48.5},{"panel":"S","level":"Excellent","year":2010,"pct":74.0},{"panel":"S","level":"Excellent","year":2015,"pct":79.1},{"panel":"S","level":"Excellent","year":2020,"pct":76.3},
{"panel":"S","level":"Good","year":1990,"pct":21.7},{"panel":"S","level":"Good","year":1995,"pct":25.4},{"panel":"S","level":"Good","year":2000,"pct":17.4},{"panel":"S","level":"Good","year":2005,"pct":38.7},{"panel":"S","level":"Good","year":2010,"pct":19.6},{"panel":"S","level":"Good","year":2015,"pct":14.2},{"panel":"S","level":"Good","year":2020,"pct":13.2},
{"panel":"S","level":"Moderate","year":1990,"pct":4.9},{"panel":"S","level":"Moderate","year":1995,"pct":5.5},{"panel":"S","level":"Moderate","year":2000,"pct":2.7},{"panel":"S","level":"Moderate","year":2005,"pct":9.5},{"panel":"S","level":"Moderate","year":2010,"pct":3.4},{"panel":"S","level":"Moderate","year":2015,"pct":3.4},{"panel":"S","level":"Moderate","year":2020,"pct":5.9},
{"panel":"S","level":"Poor","year":1990,"pct":1.5},{"panel":"S","level":"Poor","year":1995,"pct":1.8},{"panel":"S","level":"Poor","year":2000,"pct":1.5},{"panel":"S","level":"Poor","year":2005,"pct":1.8},{"panel":"S","level":"Poor","year":2010,"pct":1.8},{"panel":"S","level":"Poor","year":2015,"pct":1.8},{"panel":"S","level":"Poor","year":2020,"pct":2.7},
{"panel":"S","level":"Very Poor","year":1990,"pct":1.0},{"panel":"S","level":"Very Poor","year":1995,"pct":1.0},{"panel":"S","level":"Very Poor","year":2000,"pct":0.9},{"panel":"S","level":"Very Poor","year":2005,"pct":0.9},{"panel":"S","level":"Very Poor","year":2010,"pct":1.2},{"panel":"S","level":"Very Poor","year":2015,"pct":1.2},{"panel":"S","level":"Very Poor","year":2020,"pct":1.8}
]},
"data": {"name": "d"},
"resolve": {"scale": {"x": "independent", "y": "independent", "color": "shared", "shape": "shared"}, "axis": {"x": "independent", "y": "independent"}, "legend": {"color": "shared"}},
"concat": [
{"title": "A", "transform": [{"filter": "datum.panel === 'A'"}],
 "encoding": {"x": {"field": "year", "type": "quantitative", "scale": {"domain": [1988.8, 2021.2], "nice": false, "zero": false}, "axis": {"title": null}},
  "y": {"field": "pct", "type": "quantitative", "scale": {"domain": [-3, 102.3], "nice": false, "zero": false}, "axis": {"title": "Percentage", "values": [0, 20, 40, 60, 80, 100]}},
  "color": {"field": "level", "type": "nominal", "legend": {"orient": "none", "legendX": 1009, "legendY": 762, "title": null, "padding": 0, "labelFontSize": 23, "labelFont": "Liberation Sans", "labelOffset": 30.5, "symbolSize": 484, "symbolStrokeWidth": 2.2, "rowPadding": 1,
   "encode": {"symbols": {"update": {"shape": {"signal": "datum.value === 'Excellent' ? 'M-1.95,0H1.95M-0.51,0A0.51,0.51,0,1,0,0.51,0A0.51,0.51,0,1,0,-0.51,0Z' : datum.value === 'Good' ? 'M-1.95,0H1.95M0,-0.35L0.35,0L0,0.35L-0.35,0Z' : datum.value === 'Moderate' ? 'M-1.95,0H1.95M0,-0.53L0.53,0.35L-0.53,0.35Z' : datum.value === 'Poor' ? 'M-1.95,0H1.95M-0.45,0A0.45,0.45,0,1,0,0.45,0A0.45,0.45,0,1,0,-0.45,0Z' : 'M-1.95,0H1.95M-0.43,-0.43H0.43V0.43H-0.43Z'"}, "fill": {"scale": "color", "field": "value"}, "stroke": {"scale": "color", "field": "value"}, "opacity": {"value": 1}, "fillOpacity": {"value": 1}, "strokeOpacity": {"value": 1}}},
    "labels": {"update": {"fill": {"scale": "color", "field": "value"}}}}}}},
 "layer": [
  {"mark": {"type": "line", "strokeWidth": 1.3}},
  {"mark": {"type": "point", "filled": true, "size": 12, "opacity": 1}, "encoding": {"shape": {"field": "level", "type": "nominal", "legend": null}}},
  {"transform": [{"regression": "pct", "on": "year", "groupby": ["level"], "extent": [1988.8, 2021.2]}], "mark": {"type": "line", "strokeDash": [2, 3], "strokeWidth": 1.5, "opacity": 0.8}}]},
{"title": "B", "transform": [{"filter": "datum.panel === 'B'"}],
 "encoding": {"x": {"field": "year", "type": "quantitative", "scale": {"domain": [1988.8, 2021.2], "nice": false, "zero": false}, "axis": {"title": null}},
  "y": {"field": "pct", "type": "quantitative", "scale": {"domain": [-3, 104.5], "nice": false, "zero": false}, "axis": {"title": null, "values": [0, 20, 40, 60, 80, 100]}},
  "color": {"field": "level", "type": "nominal"}},
 "layer": [
  {"mark": {"type": "line", "strokeWidth": 1.3}},
  {"mark": {"type": "point", "filled": true, "size": 12, "opacity": 1}, "encoding": {"shape": {"field": "level", "type": "nominal", "legend": null}}},
  {"transform": [{"regression": "pct", "on": "year", "groupby": ["level"], "extent": [1988.8, 2021.2]}], "mark": {"type": "line", "strokeDash": [2, 3], "strokeWidth": 1.5, "opacity": 0.8}}]},
{"title": "C", "transform": [{"filter": "datum.panel === 'C'"}],
 "encoding": {"x": {"field": "year", "type": "quantitative", "scale": {"domain": [1988.8, 2021.2], "nice": false, "zero": false}, "axis": {"title": null}},
  "y": {"field": "pct", "type": "quantitative", "scale": {"domain": [-3, 102.5], "nice": false, "zero": false}, "axis": {"title": null, "values": [0, 20, 40, 60, 80, 100]}},
  "color": {"field": "level", "type": "nominal"}},
 "layer": [
  {"mark": {"type": "line", "strokeWidth": 1.3}},
  {"mark": {"type": "point", "filled": true, "size": 12, "opacity": 1}, "encoding": {"shape": {"field": "level", "type": "nominal", "legend": null}}},
  {"transform": [{"regression": "pct", "on": "year", "groupby": ["level"], "extent": [1988.8, 2021.2]}], "mark": {"type": "line", "strokeDash": [2, 3], "strokeWidth": 1.5, "opacity": 0.8}}]},
{"title": "D", "transform": [{"filter": "datum.panel === 'D'"}],
 "encoding": {"x": {"field": "year", "type": "quantitative", "scale": {"domain": [1988.8, 2021.2], "nice": false, "zero": false}, "axis": {"title": null}},
  "y": {"field": "pct", "type": "quantitative", "scale": {"domain": [-3, 102], "nice": false, "zero": false}, "axis": {"title": null, "values": [0, 20, 40, 60, 80, 100]}},
  "color": {"field": "level", "type": "nominal"}},
 "layer": [
  {"mark": {"type": "line", "strokeWidth": 1.3}},
  {"mark": {"type": "point", "filled": true, "size": 12, "opacity": 1}, "encoding": {"shape": {"field": "level", "type": "nominal", "legend": null}}},
  {"transform": [{"regression": "pct", "on": "year", "groupby": ["level"], "extent": [1988.8, 2021.2]}], "mark": {"type": "line", "strokeDash": [2, 3], "strokeWidth": 1.5, "opacity": 0.8}}]},
{"title": "E", "transform": [{"filter": "datum.panel === 'E'"}],
 "encoding": {"x": {"field": "year", "type": "quantitative", "scale": {"domain": [1988.8, 2021.2], "nice": false, "zero": false}, "axis": {"title": null}},
  "y": {"field": "pct", "type": "quantitative", "scale": {"domain": [-2.7, 92.3], "nice": false, "zero": false}, "axis": {"title": null, "values": [0, 20, 40, 60, 80]}},
  "color": {"field": "level", "type": "nominal"}},
 "layer": [
  {"mark": {"type": "line", "strokeWidth": 1.3}},
  {"mark": {"type": "point", "filled": true, "size": 12, "opacity": 1}, "encoding": {"shape": {"field": "level", "type": "nominal", "legend": null}}},
  {"transform": [{"regression": "pct", "on": "year", "groupby": ["level"], "extent": [1988.8, 2021.2]}], "mark": {"type": "line", "strokeDash": [2, 3], "strokeWidth": 1.5, "opacity": 0.8}}]},
{"title": "F", "transform": [{"filter": "datum.panel === 'F'"}],
 "encoding": {"x": {"field": "year", "type": "quantitative", "scale": {"domain": [1988.8, 2021.2], "nice": false, "zero": false}, "axis": {"title": null}},
  "y": {"field": "pct", "type": "quantitative", "scale": {"domain": [-3, 99.5], "nice": false, "zero": false}, "axis": {"title": "Percentage", "values": [0, 20, 40, 60, 80]}},
  "color": {"field": "level", "type": "nominal"}},
 "layer": [
  {"mark": {"type": "line", "strokeWidth": 1.3}},
  {"mark": {"type": "point", "filled": true, "size": 12, "opacity": 1}, "encoding": {"shape": {"field": "level", "type": "nominal", "legend": null}}},
  {"transform": [{"regression": "pct", "on": "year", "groupby": ["level"], "extent": [1988.8, 2021.2]}], "mark": {"type": "line", "strokeDash": [2, 3], "strokeWidth": 1.5, "opacity": 0.8}}]},
{"title": "G", "transform": [{"filter": "datum.panel === 'G'"}],
 "encoding": {"x": {"field": "year", "type": "quantitative", "scale": {"domain": [1988.8, 2021.2], "nice": false, "zero": false}, "axis": {"title": null}},
  "y": {"field": "pct", "type": "quantitative", "scale": {"domain": [-2.6, 88.6], "nice": false, "zero": false}, "axis": {"title": null, "values": [0, 20, 40, 60, 80]}},
  "color": {"field": "level", "type": "nominal"}},
 "layer": [
  {"mark": {"type": "line", "strokeWidth": 1.3}},
  {"mark": {"type": "point", "filled": true, "size": 12, "opacity": 1}, "encoding": {"shape": {"field": "level", "type": "nominal", "legend": null}}},
  {"transform": [{"regression": "pct", "on": "year", "groupby": ["level"], "extent": [1988.8, 2021.2]}], "mark": {"type": "line", "strokeDash": [2, 3], "strokeWidth": 1.5, "opacity": 0.8}}]},
{"title": "H", "transform": [{"filter": "datum.panel === 'H'"}],
 "encoding": {"x": {"field": "year", "type": "quantitative", "scale": {"domain": [1988.8, 2021.2], "nice": false, "zero": false}, "axis": {"title": null}},
  "y": {"field": "pct", "type": "quantitative", "scale": {"domain": [-2.2, 76.5], "nice": false, "zero": false}, "axis": {"title": null, "values": [0, 20, 40, 60]}},
  "color": {"field": "level", "type": "nominal"}},
 "layer": [
  {"mark": {"type": "line", "strokeWidth": 1.3}},
  {"mark": {"type": "point", "filled": true, "size": 12, "opacity": 1}, "encoding": {"shape": {"field": "level", "type": "nominal", "legend": null}}},
  {"transform": [{"regression": "pct", "on": "year", "groupby": ["level"], "extent": [1988.8, 2021.2]}], "mark": {"type": "line", "strokeDash": [2, 3], "strokeWidth": 1.5, "opacity": 0.8}}]},
{"title": "I", "transform": [{"filter": "datum.panel === 'I'"}],
 "encoding": {"x": {"field": "year", "type": "quantitative", "scale": {"domain": [1988.8, 2021.2], "nice": false, "zero": false}, "axis": {"title": null}},
  "y": {"field": "pct", "type": "quantitative", "scale": {"domain": [-2.8, 94.4], "nice": false, "zero": false}, "axis": {"title": null, "values": [0, 20, 40, 60, 80]}},
  "color": {"field": "level", "type": "nominal"}},
 "layer": [
  {"mark": {"type": "line", "strokeWidth": 1.3}},
  {"mark": {"type": "point", "filled": true, "size": 12, "opacity": 1}, "encoding": {"shape": {"field": "level", "type": "nominal", "legend": null}}},
  {"transform": [{"regression": "pct", "on": "year", "groupby": ["level"], "extent": [1988.8, 2021.2]}], "mark": {"type": "line", "strokeDash": [2, 3], "strokeWidth": 1.5, "opacity": 0.8}}]},
{"title": "J", "transform": [{"filter": "datum.panel === 'J'"}],
 "encoding": {"x": {"field": "year", "type": "quantitative", "scale": {"domain": [1988.8, 2021.2], "nice": false, "zero": false}, "axis": {"title": null}},
  "y": {"field": "pct", "type": "quantitative", "scale": {"domain": [-2.9, 96.8], "nice": false, "zero": false}, "axis": {"title": null, "values": [0, 20, 40, 60, 80]}},
  "color": {"field": "level", "type": "nominal"}},
 "layer": [
  {"mark": {"type": "line", "strokeWidth": 1.3}},
  {"mark": {"type": "point", "filled": true, "size": 12, "opacity": 1}, "encoding": {"shape": {"field": "level", "type": "nominal", "legend": null}}},
  {"transform": [{"regression": "pct", "on": "year", "groupby": ["level"], "extent": [1988.8, 2021.2]}], "mark": {"type": "line", "strokeDash": [2, 3], "strokeWidth": 1.5, "opacity": 0.8}}]},
{"title": "K", "transform": [{"filter": "datum.panel === 'K'"}],
 "encoding": {"x": {"field": "year", "type": "quantitative", "scale": {"domain": [1988.8, 2021.2], "nice": false, "zero": false}, "axis": {"title": null}},
  "y": {"field": "pct", "type": "quantitative", "scale": {"domain": [-2.8, 93.4], "nice": false, "zero": false}, "axis": {"title": "Percentage", "values": [0, 20, 40, 60, 80]}},
  "color": {"field": "level", "type": "nominal"}},
 "layer": [
  {"mark": {"type": "line", "strokeWidth": 1.3}},
  {"mark": {"type": "point", "filled": true, "size": 12, "opacity": 1}, "encoding": {"shape": {"field": "level", "type": "nominal", "legend": null}}},
  {"transform": [{"regression": "pct", "on": "year", "groupby": ["level"], "extent": [1988.8, 2021.2]}], "mark": {"type": "line", "strokeDash": [2, 3], "strokeWidth": 1.5, "opacity": 0.8}}]},
{"title": "L", "transform": [{"filter": "datum.panel === 'L'"}],
 "encoding": {"x": {"field": "year", "type": "quantitative", "scale": {"domain": [1988.8, 2021.2], "nice": false, "zero": false}, "axis": {"title": null}},
  "y": {"field": "pct", "type": "quantitative", "scale": {"domain": [-3, 101], "nice": false, "zero": false}, "axis": {"title": null, "values": [0, 20, 40, 60, 80, 100]}},
  "color": {"field": "level", "type": "nominal"}},
 "layer": [
  {"mark": {"type": "line", "strokeWidth": 1.3}},
  {"mark": {"type": "point", "filled": true, "size": 12, "opacity": 1}, "encoding": {"shape": {"field": "level", "type": "nominal", "legend": null}}},
  {"transform": [{"regression": "pct", "on": "year", "groupby": ["level"], "extent": [1988.8, 2021.2]}], "mark": {"type": "line", "strokeDash": [2, 3], "strokeWidth": 1.5, "opacity": 0.8}}]},
{"title": "M", "transform": [{"filter": "datum.panel === 'M'"}],
 "encoding": {"x": {"field": "year", "type": "quantitative", "scale": {"domain": [1988.8, 2021.2], "nice": false, "zero": false}, "axis": {"title": null}},
  "y": {"field": "pct", "type": "quantitative", "scale": {"domain": [-3, 103.3], "nice": false, "zero": false}, "axis": {"title": null, "values": [0, 20, 40, 60, 80, 100]}},
  "color": {"field": "level", "type": "nominal"}},
 "layer": [
  {"mark": {"type": "line", "strokeWidth": 1.3}},
  {"mark": {"type": "point", "filled": true, "size": 12, "opacity": 1}, "encoding": {"shape": {"field": "level", "type": "nominal", "legend": null}}},
  {"transform": [{"regression": "pct", "on": "year", "groupby": ["level"], "extent": [1988.8, 2021.2]}], "mark": {"type": "line", "strokeDash": [2, 3], "strokeWidth": 1.5, "opacity": 0.8}}]},
{"title": "N", "transform": [{"filter": "datum.panel === 'N'"}],
 "encoding": {"x": {"field": "year", "type": "quantitative", "scale": {"domain": [1988.8, 2021.2], "nice": false, "zero": false}, "axis": {"title": null}},
  "y": {"field": "pct", "type": "quantitative", "scale": {"domain": [-2.5, 83.9], "nice": false, "zero": false}, "axis": {"title": null, "values": [0, 20, 40, 60, 80]}},
  "color": {"field": "level", "type": "nominal"}},
 "layer": [
  {"mark": {"type": "line", "strokeWidth": 1.3}},
  {"mark": {"type": "point", "filled": true, "size": 12, "opacity": 1}, "encoding": {"shape": {"field": "level", "type": "nominal", "legend": null}}},
  {"transform": [{"regression": "pct", "on": "year", "groupby": ["level"], "extent": [1988.8, 2021.2]}], "mark": {"type": "line", "strokeDash": [2, 3], "strokeWidth": 1.5, "opacity": 0.8}}]},
{"title": "O", "transform": [{"filter": "datum.panel === 'O'"}],
 "encoding": {"x": {"field": "year", "type": "quantitative", "scale": {"domain": [1988.8, 2021.2], "nice": false, "zero": false}, "axis": {"title": "Year"}},
  "y": {"field": "pct", "type": "quantitative", "scale": {"domain": [-2.7, 90.6], "nice": false, "zero": false}, "axis": {"title": null, "values": [0, 20, 40, 60, 80]}},
  "color": {"field": "level", "type": "nominal"}},
 "layer": [
  {"mark": {"type": "line", "strokeWidth": 1.3}},
  {"mark": {"type": "point", "filled": true, "size": 12, "opacity": 1}, "encoding": {"shape": {"field": "level", "type": "nominal", "legend": null}}},
  {"transform": [{"regression": "pct", "on": "year", "groupby": ["level"], "extent": [1988.8, 2021.2]}], "mark": {"type": "line", "strokeDash": [2, 3], "strokeWidth": 1.5, "opacity": 0.8}}]},
{"title": "P", "transform": [{"filter": "datum.panel === 'P'"}],
 "encoding": {"x": {"field": "year", "type": "quantitative", "scale": {"domain": [1988.8, 2021.2], "nice": false, "zero": false}, "axis": {"title": "Year"}},
  "y": {"field": "pct", "type": "quantitative", "scale": {"domain": [-3, 98.3], "nice": false, "zero": false}, "axis": {"title": "Percentage", "values": [0, 20, 40, 60, 80]}},
  "color": {"field": "level", "type": "nominal"}},
 "layer": [
  {"mark": {"type": "line", "strokeWidth": 1.3}},
  {"mark": {"type": "point", "filled": true, "size": 12, "opacity": 1}, "encoding": {"shape": {"field": "level", "type": "nominal", "legend": null}}},
  {"transform": [{"regression": "pct", "on": "year", "groupby": ["level"], "extent": [1988.8, 2021.2]}], "mark": {"type": "line", "strokeDash": [2, 3], "strokeWidth": 1.5, "opacity": 0.8}}]},
{"title": "Q", "transform": [{"filter": "datum.panel === 'Q'"}],
 "encoding": {"x": {"field": "year", "type": "quantitative", "scale": {"domain": [1988.8, 2021.2], "nice": false, "zero": false}, "axis": {"title": "Year"}},
  "y": {"field": "pct", "type": "quantitative", "scale": {"domain": [-2.5, 83.4], "nice": false, "zero": false}, "axis": {"title": null, "values": [0, 20, 40, 60, 80]}},
  "color": {"field": "level", "type": "nominal"}},
 "layer": [
  {"mark": {"type": "line", "strokeWidth": 1.3}},
  {"mark": {"type": "point", "filled": true, "size": 12, "opacity": 1}, "encoding": {"shape": {"field": "level", "type": "nominal", "legend": null}}},
  {"transform": [{"regression": "pct", "on": "year", "groupby": ["level"], "extent": [1988.8, 2021.2]}], "mark": {"type": "line", "strokeDash": [2, 3], "strokeWidth": 1.5, "opacity": 0.8}}]},
{"title": "R", "transform": [{"filter": "datum.panel === 'R'"}],
 "encoding": {"x": {"field": "year", "type": "quantitative", "scale": {"domain": [1988.8, 2021.2], "nice": false, "zero": false}, "axis": {"title": "Year"}},
  "y": {"field": "pct", "type": "quantitative", "scale": {"domain": [-2.6, 87], "nice": false, "zero": false}, "axis": {"title": null, "values": [0, 20, 40, 60, 80]}},
  "color": {"field": "level", "type": "nominal"}},
 "layer": [
  {"mark": {"type": "line", "strokeWidth": 1.3}},
  {"mark": {"type": "point", "filled": true, "size": 12, "opacity": 1}, "encoding": {"shape": {"field": "level", "type": "nominal", "legend": null}}},
  {"transform": [{"regression": "pct", "on": "year", "groupby": ["level"], "extent": [1988.8, 2021.2]}], "mark": {"type": "line", "strokeDash": [2, 3], "strokeWidth": 1.5, "opacity": 0.8}}]},
{"title": "S", "transform": [{"filter": "datum.panel === 'S'"}],
 "encoding": {"x": {"field": "year", "type": "quantitative", "scale": {"domain": [1988.8, 2021.2], "nice": false, "zero": false}, "axis": {"title": "Year"}},
  "y": {"field": "pct", "type": "quantitative", "scale": {"domain": [-2.8, 92.3], "nice": false, "zero": false}, "axis": {"title": null, "values": [0, 20, 40, 60, 80]}},
  "color": {"field": "level", "type": "nominal"}},
 "layer": [
  {"mark": {"type": "line", "strokeWidth": 1.3}},
  {"mark": {"type": "point", "filled": true, "size": 12, "opacity": 1}, "encoding": {"shape": {"field": "level", "type": "nominal", "legend": null}}},
  {"transform": [{"regression": "pct", "on": "year", "groupby": ["level"], "extent": [1988.8, 2021.2]}], "mark": {"type": "line", "strokeDash": [2, 3], "strokeWidth": 1.5, "opacity": 0.8}}]}
],
"config": {
 "view": {"continuousWidth": 227, "continuousHeight": 214, "stroke": "#9b9b9b", "strokeWidth": 1.2},
 "range": {"category": ["#B040E0", "#FF8C00", "#C48E8A", "#FF1493", "#00CED1"], "symbol": ["circle", "diamond", "triangle-up", "circle", "square"]},
 "axis": {"grid": false, "domain": false, "tickColor": "#555", "tickSize": 4, "labelFont": "Liberation Sans", "labelFontSize": 8.8, "labelColor": "#444", "titleFont": "Liberation Sans", "titleFontWeight": "normal", "titleFontSize": 12, "titleColor": "#111", "labelOverlap": false, "labelFlush": false, "labelBound": false},
 "axisX": {"values": [1990, 1995, 2000, 2005, 2010, 2015, 2020], "format": "d", "labelPadding": 2, "titlePadding": 2},
 "axisY": {"labelAngle": -90, "labelAlign": "center", "labelBaseline": "bottom", "labelPadding": 3, "titlePadding": 8},
 "title": {"anchor": "start", "frame": "group", "fontSize": 26, "fontWeight": "bold", "font": "Liberation Sans", "color": "#000", "baseline": "top", "offset": -25, "dx": 3, "dy": 9}
}
}
